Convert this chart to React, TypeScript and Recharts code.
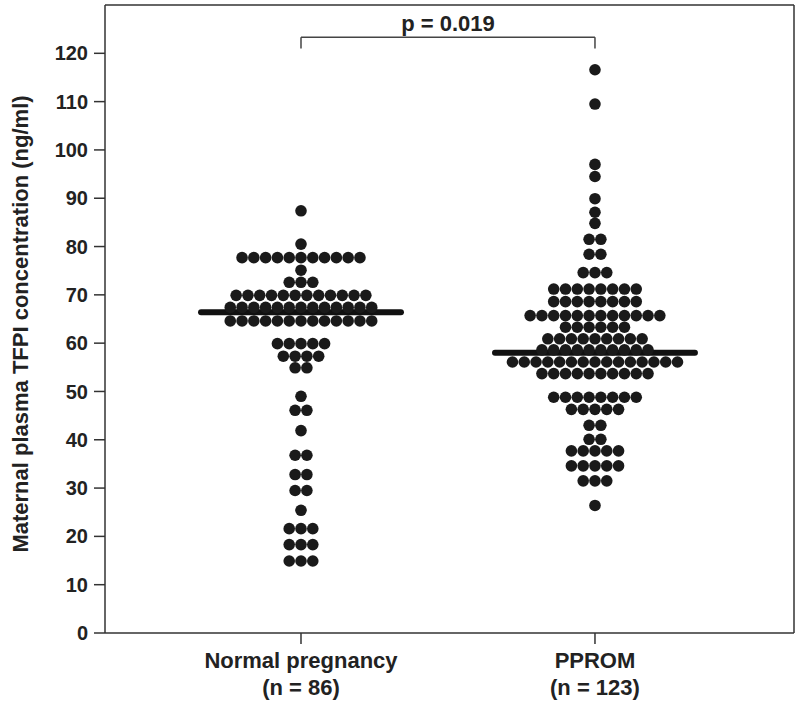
import React from 'react';
import { ScatterChart, Scatter, XAxis, YAxis, ReferenceLine } from 'recharts';

// ---- data ----
const categories = ['Normal pregnancy', 'PPROM'];
const sampleLabels = ['(n = 86)', '(n = 123)'];
const yTicks = [0, 10, 20, 30, 40, 50, 60, 70, 80, 90, 100, 110, 120];

// each row of the dot plot: value and number of dots at that value
const normalValues = [87.4, 80.5, 77.7, 75.1, 72.6, 69.9, 67.4, 64.6, 59.9, 57.3, 54.9, 49.0, 46.1, 41.9, 36.8, 32.8, 29.5, 25.4, 21.6, 18.3, 14.9];
const normalCounts = [1, 1, 11, 1, 3, 12, 13, 13, 5, 4, 2, 1, 2, 1, 2, 2, 2, 1, 3, 3, 3];

const ppromValues = [116.6, 109.5, 97.0, 94.5, 89.9, 87.1, 84.8, 81.5, 78.4, 74.6, 71.2, 68.6, 65.7, 63.3, 60.9, 58.6, 56.1, 53.7, 48.8, 46.3, 43.0, 40.1, 37.7, 34.6, 31.5, 26.4];
const ppromCounts = [1, 1, 1, 1, 1, 1, 1, 2, 2, 3, 8, 8, 12, 6, 9, 10, 15, 10, 8, 5, 2, 2, 5, 5, 3, 1];

const medians = [66.4, 58.0];
const pValueText = 'p = 0.019';
const bracketTop = 123.3;
const bracketBottom = 121.0;

// ---- layout constants ----
const X_MIN = -0.6667;
const X_MAX = 1.677;
const Y_MAX = 130;
const DOT_STEP = 0.0401;
const MEDIAN_HALF = 0.34;
const FONT = '"Liberation Sans", Arial, Helvetica, sans-serif';
const AXIS_COLOR = '#333';
const DOT_COLOR = '#1a1a1a';

function swarm(group: number, values: number[], counts: number[]) {
  const pts: { x: number; y: number }[] = [];
  values.forEach((v, r) => {
    const n = counts[r];
    for (let i = 0; i < n; i++) {
      pts.push({ x: group + (i - (n - 1) / 2) * DOT_STEP, y: v });
    }
  });
  return pts;
}

const normalPoints = swarm(0, normalValues, normalCounts);
const ppromPoints = swarm(1, ppromValues, ppromCounts);

const Dot = (props: any) => <circle cx={props.cx} cy={props.cy} r={5.8} fill={DOT_COLOR} />;

const CategoryTick = (props: any) => {
  const { x, y, payload } = props;
  const i = Math.round(payload.value);
  return (
    <text x={x} y={y} textAnchor="middle" fontFamily={FONT} fontWeight="bold" fontSize={22} fill="#222">
      <tspan x={x} dy={22}>{categories[i]}</tspan>
      <tspan x={x} dy={27}>{sampleLabels[i]}</tspan>
    </text>
  );
};

const YLabel = (props: any) => {
  const vb = props.viewBox || { x: 0, y: 5, width: 105, height: 628 };
  const cx = vb.x + 20;
  const cy = vb.y + vb.height / 2 + 5;
  return (
    <text
      x={cx}
      y={cy}
      transform={`rotate(-90, ${cx}, ${cy})`}
      textAnchor="middle"
      dominantBaseline="central"
      fontFamily={FONT}
      fontWeight="bold"
      fontSize={22}
      fill="#222"
    >
      Maternal plasma TFPI concentration (ng/ml)
    </text>
  );
};

export default function App() {
  return (
    <div style={{ position: 'absolute', left: 0, top: 0, width: 800, height: 701, background: '#fff', fontFamily: FONT }}>
      <ScatterChart width={800} height={701} margin={{ top: 5, right: 6, bottom: 0, left: 0 }}>
        <XAxis
          type="number"
          dataKey="x"
          domain={[X_MIN, X_MAX]}
          ticks={[0, 1]}
          interval={0}
          allowDataOverflow
          height={68}
          tickSize={11}
          tick={<CategoryTick />}
          stroke={AXIS_COLOR}
          strokeWidth={1.5}
        />
        <YAxis
          type="number"
          dataKey="y"
          domain={[0, Y_MAX]}
          ticks={yTicks}
          interval={0}
          allowDataOverflow
          width={105}
          tickSize={11}
          tickMargin={6}
          tick={{ fontSize: 20, fontWeight: 'bold', fill: '#222', fontFamily: FONT }}
          stroke={AXIS_COLOR}
          strokeWidth={1.5}
          label={<YLabel />}
        />
        <ReferenceLine y={Y_MAX} stroke={AXIS_COLOR} strokeWidth={1.5} />
        <ReferenceLine x={X_MAX} stroke={AXIS_COLOR} strokeWidth={1.5} />
        <Scatter data={normalPoints} shape={<Dot />} isAnimationActive={false} />
        <Scatter data={ppromPoints} shape={<Dot />} isAnimationActive={false} />
        {medians.map((m, g) => (
          <ReferenceLine
            key={'med' + g}
            segment={[{ x: g - MEDIAN_HALF, y: m }, { x: g + MEDIAN_HALF, y: m }]}
            stroke="#111"
            strokeWidth={6}
            strokeLinecap="round"
          />
        ))}
        <ReferenceLine
          segment={[{ x: 0, y: bracketTop }, { x: 1, y: bracketTop }]}
          stroke="#444"
          strokeWidth={1.5}
          label={{ value: pValueText, position: 'top', offset: 6, fontSize: 22, fontWeight: 'bold', fill: '#222', fontFamily: FONT }}
        />
        <ReferenceLine segment={[{ x: 0, y: bracketTop }, { x: 0, y: bracketBottom }]} stroke="#444" strokeWidth={1.5} />
        <ReferenceLine segment={[{ x: 1, y: bracketTop }, { x: 1, y: bracketBottom }]} stroke="#444" strokeWidth={1.5} />
      </ScatterChart>
    </div>
  );
}
